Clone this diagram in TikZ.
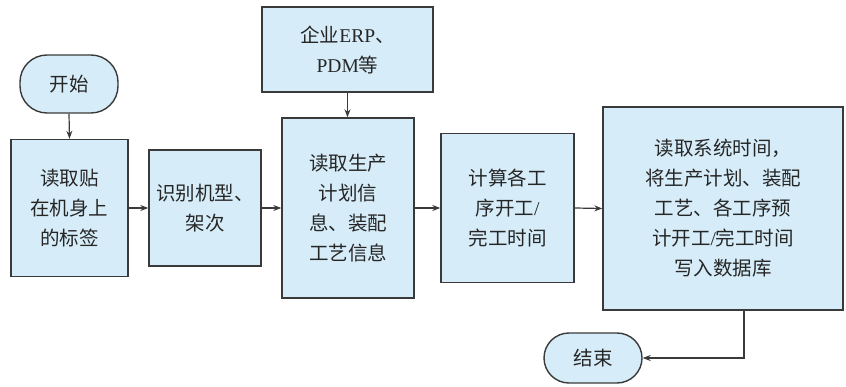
\documentclass[tikz,border=0pt]{standalone}
\usepackage{fontspec}
\setmainfont{Noto Sans CJK SC}
\newfontfamily\lat{Liberation Serif}
\usetikzlibrary{arrows.meta}
\definecolor{boxfill}{HTML}{D6EDF9}
\definecolor{boxline}{HTML}{3A3A3A}
\definecolor{txt}{HTML}{262626}
\tikzset{
  box/.style={draw=boxline, line width=1.4pt, fill=boxfill, inner sep=0pt, align=center,
    font=\fontsize{19.5}{30}\selectfont, text=txt},
  term/.style={box, rounded corners=27pt},
  arr/.style={draw=boxline, line width=1.2pt, -{Stealth[length=8pt,width=6pt]}},
}
\begin{document}
\begin{tikzpicture}[x=1pt,y=-1pt]
\useasboundingbox (0,0) rectangle (846,387);
\node[term, minimum width=98pt, minimum height=58pt] (start) at (69,84) {开始};
\node[box, minimum width=117pt, minimum height=137pt] (b1) at (69.5,208) {读取贴\\在机身上\\的标签};
\node[box, minimum width=112pt, minimum height=116pt] (b2) at (205,208) {识别机型、\\架次};
\node[box, minimum width=171pt, minimum height=85pt] (erp) at (347.5,49.5) {企业{\lat ERP}、\\{\lat PDM}等};
\node[box, minimum width=132pt, minimum height=180pt] (b3) at (348,208) {读取生产\\计划信\\息、装配\\工艺信息};
\node[box, minimum width=133pt, minimum height=149pt] (b4) at (507.5,208) {计算各工\\序开工{\lat /}\\完工时间};
\node[box, minimum width=240pt, minimum height=203pt] (b5) at (723,208.5) {读取系统时间，\\将生产计划、装配\\工艺、各工序预\\计开工{\lat /}完工时间\\写入数据库};
\node[term, minimum width=98pt, minimum height=50pt, rounded corners=25pt] (end) at (593,358) {结束};
\coordinate (c5) at (744,310);
\draw[arr] (start.south) -- (b1.north);
\draw[arr] (b1.east) -- (b2.west);
\draw[arr] (b2.east) -- (b3.west);
\draw[arr] (erp.south) -- (erp.south |- b3.north);
\draw[arr] (b3.east) -- (b4.west);
\draw[arr] (b4.east) -- (b5.west);
\draw[arr] (c5) |- (end.east);
\end{tikzpicture}
\end{document}
